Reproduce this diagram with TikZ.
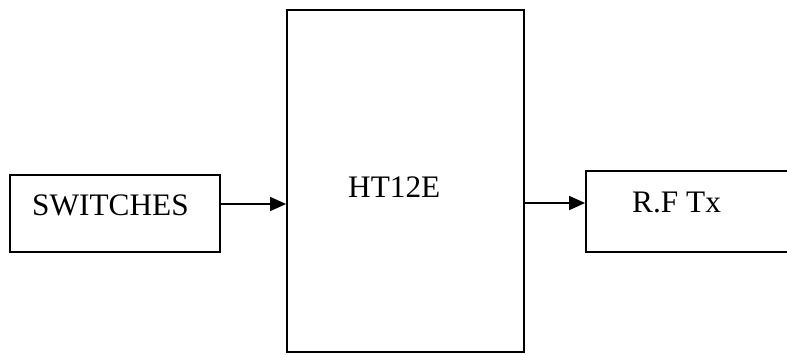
\documentclass[tikz,border=0pt]{standalone}
\usepackage{fontspec}
\setmainfont{Liberation Serif}
\usetikzlibrary{arrows.meta}
\begin{document}
\begin{tikzpicture}[x=1pt,y=-1pt,
  blk/.style={draw=black,line width=1.8pt,rectangle,inner sep=0pt},
  lbl/.style={inner sep=0pt,anchor=base west,font=\fontsize{31.3}{36}\selectfont},
  conn/.style={line width=1.5pt,-{Triangle[length=16pt,width=14pt]}}]
\useasboundingbox (0,0) rectangle (787,354);
\node[blk,minimum width=210pt,minimum height=77pt] (sw) at (115,213.5) {};
\node[blk,minimum width=237pt,minimum height=342pt] (ht) at (405.5,181) {};
\node[blk,minimum width=214pt,minimum height=81pt] (rf) at (693,211.5) {};
\node[lbl] (tsw) at (32,215) {SWITCHES};
\node[lbl] (tht) at (348,197) {HT12E};
\node[lbl] (trf) at (632,212) {R.F Tx};
\coordinate (a1) at (250,204);
\coordinate (a2) at (550,203);
\draw[conn] (sw.east |- a1) -- (ht.west |- a1);
\draw[conn] (ht.east |- a2) -- (rf.west |- a2);
\end{tikzpicture}
\end{document}
